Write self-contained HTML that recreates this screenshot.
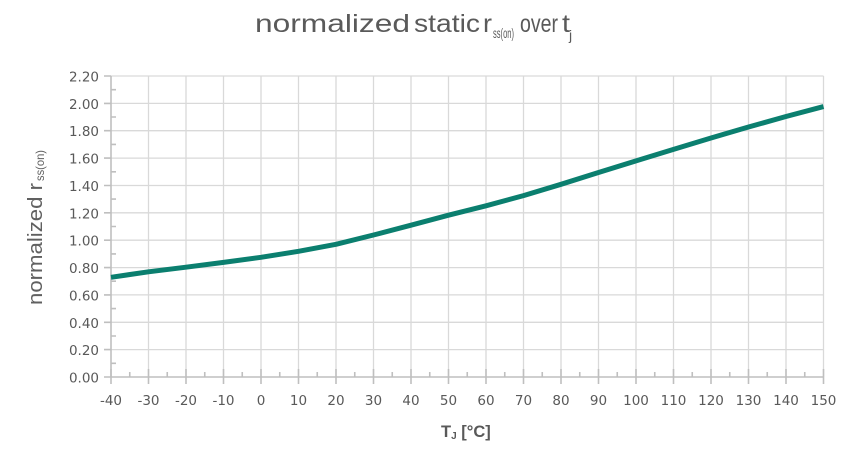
<!DOCTYPE html>
<html><head><meta charset="utf-8"><style>
html,body{margin:0;padding:0;background:#fff;}
svg{display:block;}
text{font-family:"Liberation Sans",sans-serif;}
.tk text{font-family:"DejaVu Sans","Liberation Sans",sans-serif;}
</style></head><body>
<svg width="860" height="456" viewBox="0 0 860 456" xmlns="http://www.w3.org/2000/svg">
<rect width="860" height="456" fill="#fff"/>
<!-- title -->
<g fill="#5a5a5a" font-size="25">
<text x="255" y="32" textLength="155" lengthAdjust="spacingAndGlyphs">normalized</text>
<text x="414" y="32" textLength="66" lengthAdjust="spacingAndGlyphs">static</text>
<text x="483" y="32" textLength="9" lengthAdjust="spacingAndGlyphs">r</text>
<text x="493" y="38" font-size="14" textLength="21" lengthAdjust="spacingAndGlyphs">ss(on)</text>
<text x="520" y="32" textLength="38" lengthAdjust="spacingAndGlyphs">over</text>
<text x="562" y="32" textLength="8" lengthAdjust="spacingAndGlyphs">t</text>
<text x="569" y="40" font-size="14">j</text>
</g>
<!-- y label -->
<g transform="translate(42,305) rotate(-90)" fill="#606060">
<text x="0" y="0" font-size="20" textLength="122" lengthAdjust="spacingAndGlyphs">normalized r</text>
<text x="124" y="2" font-size="12" textLength="31" lengthAdjust="spacingAndGlyphs">ss(on)</text>
</g>
<!-- grid -->
<g stroke="#d9d9d9" stroke-width="1.3">
<line x1="111" y1="76" x2="823.5" y2="76"/>
<line x1="111" y1="103.4" x2="823.5" y2="103.4"/>
<line x1="111" y1="130.7" x2="823.5" y2="130.7"/>
<line x1="111" y1="158.1" x2="823.5" y2="158.1"/>
<line x1="111" y1="185.5" x2="823.5" y2="185.5"/>
<line x1="111" y1="212.8" x2="823.5" y2="212.8"/>
<line x1="111" y1="240.2" x2="823.5" y2="240.2"/>
<line x1="111" y1="267.6" x2="823.5" y2="267.6"/>
<line x1="111" y1="294.9" x2="823.5" y2="294.9"/>
<line x1="111" y1="322.3" x2="823.5" y2="322.3"/>
<line x1="111" y1="349.6" x2="823.5" y2="349.6"/>
<line x1="148.5" y1="76" x2="148.5" y2="377"/>
<line x1="186" y1="76" x2="186" y2="377"/>
<line x1="223.5" y1="76" x2="223.5" y2="377"/>
<line x1="261" y1="76" x2="261" y2="377"/>
<line x1="298.5" y1="76" x2="298.5" y2="377"/>
<line x1="336" y1="76" x2="336" y2="377"/>
<line x1="373.5" y1="76" x2="373.5" y2="377"/>
<line x1="411" y1="76" x2="411" y2="377"/>
<line x1="448.5" y1="76" x2="448.5" y2="377"/>
<line x1="486" y1="76" x2="486" y2="377"/>
<line x1="523.5" y1="76" x2="523.5" y2="377"/>
<line x1="561" y1="76" x2="561" y2="377"/>
<line x1="598.5" y1="76" x2="598.5" y2="377"/>
<line x1="636" y1="76" x2="636" y2="377"/>
<line x1="673.5" y1="76" x2="673.5" y2="377"/>
<line x1="711" y1="76" x2="711" y2="377"/>
<line x1="748.5" y1="76" x2="748.5" y2="377"/>
<line x1="786" y1="76" x2="786" y2="377"/>
<line x1="823.5" y1="76" x2="823.5" y2="377"/>
</g>
<!-- axes & ticks -->
<g stroke="#bfbfbf" stroke-width="1.6">
<line x1="111" y1="76" x2="111" y2="377"/>
<line x1="111" y1="377" x2="823.5" y2="377"/>
<path d="M104 76H111M104 103.4H111M104 130.7H111M104 158.1H111M104 185.5H111M104 212.8H111M104 240.2H111M104 267.6H111M104 294.9H111M104 322.3H111M104 349.6H111M104 377H111"/>
<path d="M111 89.7H116M111 117H116M111 144.4H116M111 171.8H116M111 199.1H116M111 226.5H116M111 253.9H116M111 281.2H116M111 308.6H116M111 336H116M111 363.3H116"/>
<path d="M111 369V384M148.5 369V384M186 369V384M223.5 369V384M261 369V384M298.5 369V384M336 369V384M373.5 369V384M411 369V384M448.5 369V384M486 369V384M523.5 369V384M561 369V384M598.5 369V384M636 369V384M673.5 369V384M711 369V384M748.5 369V384M786 369V384M823.5 369V384"/>
<path d="M129.75 372V377M167.25 372V377M204.75 372V377M242.25 372V377M279.75 372V377M317.25 372V377M354.75 372V377M392.25 372V377M429.75 372V377M467.25 372V377M504.75 372V377M542.25 372V377M579.75 372V377M617.25 372V377M654.75 372V377M692.25 372V377M729.75 372V377M767.25 372V377M804.75 372V377"/>
</g>
<!-- y tick labels -->
<g class="tk" fill="#595959" font-size="13.5" text-anchor="end">
<text x="99" y="81.5">2.20</text>
<text x="99" y="108.9">2.00</text>
<text x="99" y="136.2">1.80</text>
<text x="99" y="163.6">1.60</text>
<text x="99" y="191">1.40</text>
<text x="99" y="218.3">1.20</text>
<text x="99" y="245.7">1.00</text>
<text x="99" y="273.1">0.80</text>
<text x="99" y="300.4">0.60</text>
<text x="99" y="327.8">0.40</text>
<text x="99" y="355.1">0.20</text>
<text x="99" y="382.5">0.00</text>
</g>
<!-- x tick labels -->
<g class="tk" fill="#595959" font-size="13.5" text-anchor="middle">
<text x="111" y="405">-40</text>
<text x="148.5" y="405">-30</text>
<text x="186" y="405">-20</text>
<text x="223.5" y="405">-10</text>
<text x="261" y="405">0</text>
<text x="298.5" y="405">10</text>
<text x="336" y="405">20</text>
<text x="373.5" y="405">30</text>
<text x="411" y="405">40</text>
<text x="448.5" y="405">50</text>
<text x="486" y="405">60</text>
<text x="523.5" y="405">70</text>
<text x="561" y="405">80</text>
<text x="598.5" y="405">90</text>
<text x="636" y="405">100</text>
<text x="673.5" y="405">110</text>
<text x="711" y="405">120</text>
<text x="748.5" y="405">130</text>
<text x="786" y="405">140</text>
<text x="823.5" y="405">150</text>
</g>
<!-- x label -->
<text x="441" y="437" fill="#595959" font-size="16.5" font-weight="bold">T<tspan font-size="10" dy="2">J</tspan><tspan dy="-2"> [°C]</tspan></text>
<!-- curve -->
<polyline fill="none" stroke="#0b7f6f" stroke-width="5" stroke-linejoin="round"
points="111,277.3 148.5,271.8 186,267.2 223.5,262.4 261,257.3 298.5,251.3 336,244.3 373.5,235 411,225.2 448.5,215.2 486,205.8 523.5,195.6 561,184.3 598.5,172.5 636,160.9 673.5,149.4 711,138 748.5,127 786,116.5 823.5,106.6"/>
</svg>
</body></html>
